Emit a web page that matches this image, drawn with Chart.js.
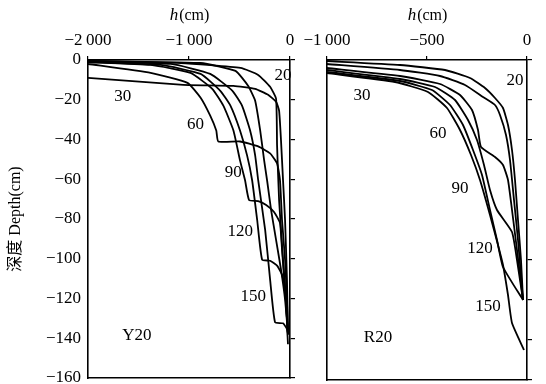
<!DOCTYPE html>
<html><head><meta charset="utf-8">
<script src="https://cdn.jsdelivr.net/npm/chart.js@4/dist/chart.umd.min.js"></script>
<style>
html,body{margin:0;padding:0;background:#fff;}
#wrap{position:relative;width:546px;height:384px;overflow:hidden;}
#cL{position:absolute;left:0;top:0;}
#cR{position:absolute;left:300px;top:0;}
</style></head>
<body><div id="wrap"><canvas id="cL" width="300" height="384"></canvas><canvas id="cR" width="246" height="384"></canvas></div>
<script>
// ---- axis ticks ----
const depthTicks = [0,-20,-40,-60,-80,-100,-120,-140,-160];
const hTicksY20 = [-2000,-1000,0];
const hTicksR20 = [-1000,-500,0];

// ---- Y20 profiles: [h (cm), depth (cm)] ----
const Y20_t20  = [[-2000,-0.5],[-1080,-1.5],[-490,-4],[-315,-7.5],[-197,-13.5],[-138,-19.5],[-128,-43],[-108,-70.5],[-69,-100.5],[-39,-120.5],[-20,-138]];
const Y20_t30  = [[-2000,-9],[-1055,-12.5],[-560,-13],[-345,-14.5],[-217,-17.5],[-138,-21],[-108,-25.5],[-89,-40.5],[-69,-60.5],[-49,-80.5],[-30,-110.5],[-20,-138]];
const Y20_t60  = [[-2000,-2],[-1380,-6.5],[-1015,-11.5],[-885,-19],[-790,-28],[-730,-35.5],[-710,-41],[-495,-41],[-315,-43.5],[-197,-47],[-128,-52],[-99,-60.5],[-79,-80.5],[-49,-100.5],[-30,-120.5],[-20,-138]];
const Y20_t90  = [[-2000,-1],[-1380,-2.5],[-985,-6.5],[-770,-14.5],[-660,-23],[-560,-35.5],[-495,-50.5],[-445,-60.5],[-405,-70.5],[-315,-71],[-236,-73],[-158,-76.5],[-99,-82],[-79,-95.5],[-49,-115.5],[-20,-138]];
const Y20_t120 = [[-2000,-1],[-1280,-2.5],[-885,-7],[-690,-15.5],[-590,-23],[-495,-35.5],[-425,-48],[-375,-60.5],[-325,-80.5],[-276,-100.5],[-197,-101],[-128,-103.5],[-79,-108],[-49,-115.5],[-30,-130.5],[-20,-138]];
const Y20_t150 = [[-2000,-0.5],[-1180,-2],[-790,-7],[-570,-15.5],[-475,-23],[-395,-35.5],[-345,-48],[-315,-60.5],[-246,-85.5],[-197,-110.5],[-148,-132],[-69,-132.5],[-30,-135.5],[-20,-143]];
const Y20_extra = [[-2000,-0.5],[-885,-1.5],[-540,-5.5],[-415,-13],[-345,-20.5],[-295,-35.5],[-256,-50.5],[-227,-60.5],[-187,-75.5],[-138,-90.5],[-89,-105.5],[-49,-120.5],[-20,-138]];

// ---- R20 profiles: [h (cm), depth (cm)] ----
const R20_t20  = [[-1000,-0.5],[-635,-2.5],[-410,-5],[-285,-9],[-210,-14],[-160,-19],[-120,-24],[-95,-32.5],[-75,-45],[-60,-60],[-45,-80],[-30,-100],[-20,-120]];
const R20_t30  = [[-1000,-2],[-635,-5],[-435,-8],[-310,-12.5],[-220,-18.5],[-160,-22.5],[-135,-27.5],[-105,-37.5],[-85,-50],[-65,-70],[-45,-90],[-20,-120]];
const R20_t60  = [[-1000,-4],[-635,-8],[-435,-12],[-335,-17.5],[-275,-25],[-245,-35],[-230,-43.5],[-160,-48.5],[-120,-52.5],[-95,-60],[-75,-75],[-50,-95],[-20,-120]];
const R20_t90  = [[-1000,-5],[-635,-9.5],[-460,-13.5],[-360,-20],[-295,-30],[-250,-40],[-215,-52.5],[-185,-65],[-150,-75],[-75,-86],[-50,-100],[-20,-120]];
const R20_t120 = [[-1000,-6],[-635,-10.5],[-475,-15],[-385,-22.5],[-320,-32.5],[-270,-45],[-225,-57.5],[-185,-75],[-150,-90],[-120,-103.5],[-20,-120]];
const R20_t150 = [[-1000,-6.5],[-660,-11],[-495,-16],[-400,-24],[-335,-35],[-280,-47.5],[-235,-60],[-185,-77.5],[-145,-92.5],[-120,-102.5],[-95,-117.5],[-75,-131.5],[-15,-145]];

// ---- curve labels ----
const Y20_labels = ['20','30','60','90','120','150','Y20'];
const R20_labels = ['20','30','60','90','120','150','R20'];
// label anchor positions (layout only, in axis units)
const Y20_labelPos = [[-69,-8],[-1655,-18.5],[-936,-32.5],[-561,-56.5],[-493,-86.5],[-364,-119],[-1517,-138.5]];
const R20_labelPos = [[-60,-10.5],[-825,-18],[-445,-37],[-335,-64.5],[-235,-94.5],[-195,-123.5],[-745,-139]];

const SERIF = '"Liberation Serif", "Times New Roman", serif';
const MINUS = '\u2212';
function fmtH(v){ if(v===0) return '0'; const a=Math.abs(v); const s = a>=1000 ? Math.floor(a/1000)+'\u2009'+String(a%1000).padStart(3,'0') : String(a); return MINUS+s; }
function fmtD(v){ return v===0 ? '0' : MINUS+Math.abs(v); }

function ds(arr){ return { data: arr.map(p=>({x:p[0], y:p[1]})), showLine:true, borderColor:'#000', borderWidth:1.8, pointRadius:0, tension:0.15, fill:false }; }

function labelPlugin(texts, pos){
  return { id:'lbls', afterDatasetsDraw(chart){
    const c=chart.ctx, xs=chart.scales.x, ys=chart.scales.y;
    c.save(); c.fillStyle='#000'; c.font='17px '+SERIF; c.textAlign='center'; c.textBaseline='middle';
    texts.forEach((t,i)=>{ c.fillText(t, xs.getPixelForValue(pos[i][0]), ys.getPixelForValue(pos[i][1])); });
    // top title  h(cm)
    const cx=(chart.chartArea.left+chart.chartArea.right)/2;
    c.font='italic 17px '+SERIF; const w1=c.measureText('h').width;
    c.font='16px '+SERIF; const w2=c.measureText('(cm)').width;
    let x0=cx-(w1+w2)/2; c.textAlign='left';
    c.font='italic 17px '+SERIF; c.fillText('h', x0, 16);
    c.font='16px '+SERIF; c.fillText('(cm)', x0+w1+1, 16);
    c.restore();
  }};
}

function makeChart(id, datasets, hMin, hTicks, leftW, rightW, padBottom, showY, texts, pos){
  const border = {display:true, color:'#000', width:1.6};
  const noPad = s=>{ s.paddingTop=0; s.paddingBottom=0; };
  return new Chart(document.getElementById(id), {
    type:'scatter',
    data:{ datasets },
    options:{
      responsive:false, animation:false, devicePixelRatio:1,
      layout:{ padding:{left:0, right:0, top:0, bottom:padBottom} },
      plugins:{ legend:{display:false}, tooltip:{enabled:false} },
      scales:{
        x:{ type:'linear', position:'top', min:hMin, max:0,
            afterBuildTicks:s=>{ s.ticks = hTicks.map(v=>({value:v})); },
            ticks:{ callback:v=>fmtH(v), color:'#000', font:{family:SERIF,size:17}, padding:5, maxRotation:0, autoSkip:false },
            grid:{ drawOnChartArea:false, drawTicks:true, tickLength:4, color:'#000', lineWidth:1.2 },
            border, afterFit:s=>{ s.height=60; s.paddingLeft=0; s.paddingRight=0; } },
        x2:{ type:'linear', position:'bottom', min:hMin, max:0,
            ticks:{ display:false }, grid:{ drawOnChartArea:false, drawTicks:false },
            border, afterFit:s=>{ s.height=0; s.paddingLeft=0; s.paddingRight=0; } },
        y:{ type:'linear', position:'left', min:-160, max:0,
            afterBuildTicks:s=>{ s.ticks = depthTicks.map(v=>({value:v})); },
            ticks:{ display:showY, callback:v=>fmtD(v), color:'#000', font:{family:SERIF,size:17}, padding:7 },
            grid:{ drawOnChartArea:false, drawTicks:false },
            title:{ display:showY, text:'深度 Depth(cm)', color:'#000', font:{family:'"Liberation Serif", "Noto Sans CJK SC", serif', size:16}, padding:{top:6,bottom:0} },
            border, afterFit:s=>{ s.width=leftW; noPad(s); } },
        y2:{ type:'linear', position:'right', min:-160, max:0,
            afterBuildTicks:s=>{ s.ticks = depthTicks.map(v=>({value:v})); },
            ticks:{ display:false },
            grid:{ drawOnChartArea:false, drawTicks:true, tickLength:5, color:'#000', lineWidth:1.2 },
            border, afterFit:s=>{ s.width=rightW; noPad(s); } }
      }
    },
    plugins:[labelPlugin(texts,pos)]
  });
}

makeChart('cL', [Y20_t20,Y20_t30,Y20_t60,Y20_t90,Y20_t120,Y20_t150,Y20_extra].map(ds), -2000, hTicksY20, 88, 10, 6, true, Y20_labels, Y20_labelPos);
makeChart('cR', [R20_t20,R20_t30,R20_t60,R20_t90,R20_t120,R20_t150].map(ds), -1000, hTicksR20, 27, 19, 4, false, R20_labels, R20_labelPos);
</script></body></html>
